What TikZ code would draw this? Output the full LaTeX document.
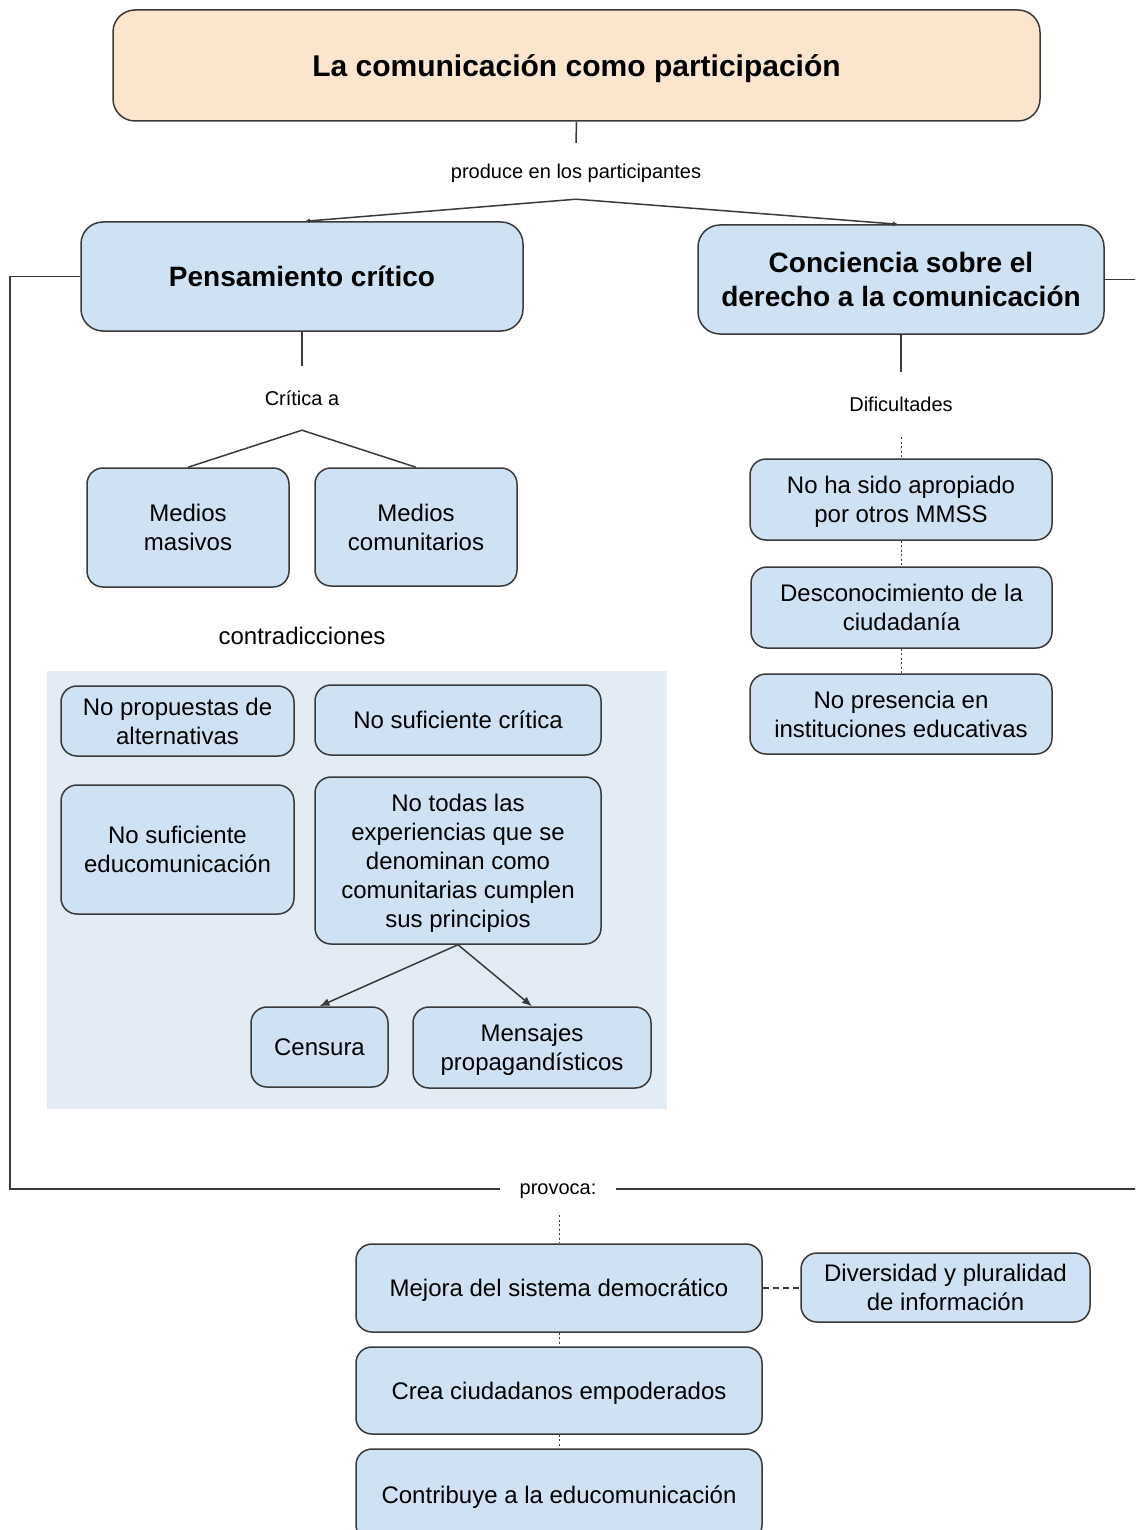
\documentclass[tikz,border=0pt]{standalone}
\usepackage{fontspec}
\setmainfont{Liberation Sans}
\usetikzlibrary{arrows.meta}
\definecolor{boxblue}{HTML}{CFE2F3}
\definecolor{peach}{HTML}{FCE5CD}
\definecolor{bgblue}{HTML}{E3EBF5}
\definecolor{edgecol}{HTML}{3A3A3A}
\tikzset{
  box/.style={draw=edgecol, line width=1.5pt, fill=boxblue, rounded corners=16pt,
    align=center, inner sep=0pt, text depth=0pt, font=\fontsize{24}{29}\selectfont},
  bigbox/.style={box, rounded corners=22pt, font=\bfseries\fontsize{28}{34}\selectfont},
  lbl/.style={align=center, inner sep=0pt, text depth=0pt, font=\fontsize{20}{24}\selectfont},
  conn/.style={draw=edgecol, line width=1.5pt},
  dots/.style={draw=edgecol, line width=1pt, dash pattern=on 2pt off 2.5pt},
  dashes/.style={draw=edgecol, line width=1.5pt, dash pattern=on 6pt off 4pt},
  smallarr/.style={conn, -{Latex[length=5pt,width=5pt]}},
  arr/.style={conn, -{Latex[length=10pt,width=8pt]}}
}
\begin{document}
\begin{tikzpicture}[x=1pt,y=-1pt]
\clip (0,0) rectangle (1135,1530);
\fill[white] (0,0) rectangle (1135,1530);
% background panel
\fill[bgblue] (47,671) rectangle (667,1109);

% title
\node[box, fill=peach, rounded corners=22pt, minimum width=927pt, minimum height=111pt,
  font=\bfseries\fontsize{30}{36}\selectfont] (title) at (576.5,65.5) {La comunicación como participación};

\node[lbl, minimum width=280pt, minimum height=56pt] (produce) at (576,171) {produce en los participantes};

\node[bigbox, minimum width=442pt, minimum height=109pt] (pc) at (302,276.5) {Pensamiento crítico};
\node[bigbox, minimum width=406pt, minimum height=109pt] (cd) at (901,279.5) {Conciencia sobre el\\derecho a la comunicación};

% left branch
\node[lbl, minimum width=90pt, minimum height=64pt] (critica) at (302,398) {Crítica a};
\node[box, minimum width=202pt, minimum height=119pt] (mm) at (188,527.5) {Medios\\masivos};
\node[box, minimum width=202pt, minimum height=118pt] (mc) at (416,527) {Medios\\comunitarios};
\node[lbl, font=\fontsize{24}{29}\selectfont] (contr) at (302,636) {contradicciones};

\node[box, minimum width=233pt, minimum height=70pt] (npa) at (177.5,721) {No propuestas de\\alternativas};
\node[box, minimum width=286pt, minimum height=70pt] (nsc) at (458,720) {No suficiente crítica};
\node[box, minimum width=233pt, minimum height=129pt] (nse) at (177.5,849.5) {No suficiente\\educomunicación};
\node[box, minimum width=286pt, minimum height=167pt] (nt) at (458,860.5) {No todas las\\experiencias que se\\denominan como\\comunitarias cumplen\\sus principios};
\node[box, minimum width=137pt, minimum height=80pt] (cen) at (319.5,1047) {Censura};
\node[box, minimum width=238pt, minimum height=81pt] (men) at (532,1047.5) {Mensajes\\propagandísticos};

% right branch
\node[lbl, minimum width=110pt, minimum height=65pt] (dif) at (901,404.5) {Dificultades};
\node[box, minimum width=302pt, minimum height=81pt] (nh) at (901,499.5) {No ha sido apropiado\\por otros MMSS};
\node[box, minimum width=301pt, minimum height=81pt] (dc) at (901.5,607.5) {Desconocimiento de la\\ciudadanía};
\node[box, minimum width=302pt, minimum height=80pt] (npi) at (901,714) {No presencia en\\instituciones educativas};

% bottom
\node[lbl, minimum width=116pt, minimum height=52pt] (prov) at (558,1189) {provoca:};
\coordinate (lc) at (10,1189);
\coordinate (rc) at (1137,1189);
\node[box, minimum width=406pt, minimum height=88pt] (mej) at (559,1288) {Mejora del sistema democrático};
\node[box, minimum width=289pt, minimum height=69pt] (div) at (945.5,1287.5) {Diversidad y pluralidad\\de información};
\node[box, minimum width=406pt, minimum height=87pt] (crea) at (559,1390.5) {Crea ciudadanos empoderados};
\node[box, minimum width=406pt, minimum height=92pt] (contrib) at (559,1495) {Contribuye a la educomunicación};

% connectors
\draw[conn] (title.south) -- (produce.north);
\draw[smallarr] (produce.south) -- ([xshift=3pt]pc.north);
\draw[smallarr] (produce.south) -- ([xshift=-3pt]cd.north);

\draw[conn] (pc.south) -- (critica.north);
\draw[conn] (critica.south) -- (mm.north);
\draw[conn] (critica.south) -- (mc.north);

\draw[arr] (nt.south) -- (cen.north);
\draw[arr] (nt.south) -- (men.north);

\draw[conn] (cd.south) -- (dif.north);
\draw[dots] (dif.south) -- (nh.north);
\draw[dots] (nh.south) -- (dc.north -| nh.south);
\draw[dots] (dc.south -| npi.north) -- (npi.north);

\draw[conn] (pc.west) -| (lc) -- (prov.west);
\draw[conn] (cd.east) -| (rc) -- (prov.east);
\draw[dots] (prov.south -| mej.north) -- (mej.north);
\draw[dashes] (mej.east) -- (mej.east -| div.west);
\draw[dots] (mej.south) -- (crea.north);
\draw[dots] (crea.south) -- (contrib.north);
\end{tikzpicture}
\end{document}
